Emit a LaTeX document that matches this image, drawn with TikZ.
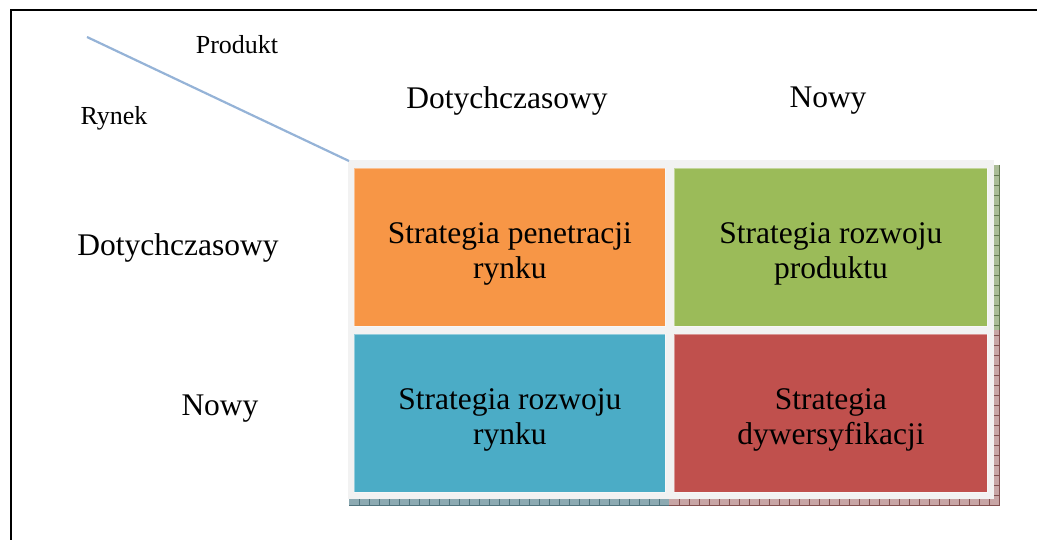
\documentclass[tikz,border=0pt]{standalone}
\usepackage{fontspec}
\setmainfont{Liberation Serif}
\definecolor{cOrange}{RGB}{247,150,70}
\definecolor{cGreen}{RGB}{155,187,89}
\definecolor{cBlue}{RGB}{75,172,198}
\definecolor{cRed}{RGB}{192,80,77}
\definecolor{cGray}{RGB}{242,242,242}
\definecolor{cLine}{RGB}{149,179,215}
\definecolor{shBlue}{RGB}{140,170,178}
\definecolor{shBlueD}{RGB}{80,115,125}
\definecolor{shRed}{RGB}{200,165,165}
\definecolor{shRedD}{RGB}{130,80,80}
\definecolor{shGreen}{RGB}{170,188,150}
\definecolor{shGreenD}{RGB}{100,120,80}
\tikzset{
  cell/.style={fill=#1, draw=white, draw opacity=0.4, line width=0.8pt, minimum width=311pt, minimum height=158pt, inner sep=0pt, anchor=north west},
  celltext/.style={align=center, font=\fontsize{31.5}{35}\selectfont, inner sep=0pt},
  biglbl/.style={font=\fontsize{31.5}{35}\selectfont, inner sep=0pt},
  smalllbl/.style={font=\fontsize{26}{30}\selectfont, inner sep=0pt},
}
\begin{document}
\begin{tikzpicture}[x=1pt,y=-1pt]
\useasboundingbox (0,0) rectangle (1037,540);
% frame
\draw[line width=2pt] (10.5,540) -- (10.5,10.5) -- (1037,10.5);
% shadow strips
\fill[shBlue] (349,499) rectangle (669,506);
\fill[shRed] (669,499) rectangle (1000,506);
\fill[shGreen] (994,165) rectangle (1000,330);
\fill[shRed] (994,330) rectangle (1000,506);
\foreach \x in {359,369,...,659} \draw[shBlueD, line width=0.6pt] (\x,499) -- (\x,506);
\foreach \x in {679,689,...,989} \draw[shRedD, line width=0.6pt] (\x,499) -- (\x,506);
\foreach \y in {175,185,...,325} \draw[shGreenD, line width=0.6pt] (994,\y) -- (1000,\y);
\foreach \y in {335,345,...,495} \draw[shRedD, line width=0.6pt] (994,\y) -- (1000,\y);
\draw[shBlueD, line width=0.8pt] (349,505.5) -- (669,505.5);
\draw[shRedD, line width=0.8pt] (669,505.5) -- (1000,505.5);
\draw[shRedD, line width=0.8pt] (999.5,330) -- (999.5,506);
\draw[shGreenD, line width=0.8pt] (999.5,165) -- (999.5,330);
% background
\node[fill=cGray, minimum width=646pt, minimum height=339pt, inner sep=0pt, anchor=north west] (bg) at (348,160) {};
% cells
\node[cell=cOrange] (c11) at (354,168) {};
\node[cell=cGreen, minimum width=313pt] (c12) at (674,168) {};
\node[cell=cBlue] (c21) at (354,334) {};
\node[cell=cRed, minimum width=313pt] (c22) at (674,334) {};
\node[celltext, yshift=-7pt] (t11) at (c11.center) {Strategia penetracji\\rynku};
\node[celltext, yshift=-7pt] (t12) at (c12.center) {Strategia rozwoju\\produktu};
\node[celltext, yshift=-7pt] (t21) at (c21.center) {Strategia rozwoju\\rynku};
\node[celltext, yshift=-7pt] (t22) at (c22.center) {Strategia\\dywersyfikacji};
% diagonal line
\coordinate (d1) at (87,37);
\coordinate (d2) at (349,161);
\draw[cLine, line width=2.2pt] (d1) -- (d2);
% labels
\node[smalllbl] (prod) at (237,45) {Produkt};
\node[smalllbl] (ryn) at (114,118) {Rynek};
\node[biglbl] (h1) at (507,101) {Dotychczasowy};
\node[biglbl] (h2) at (828,101) {Nowy};
\node[biglbl] (r1) at (178,248) {Dotychczasowy};
\node[biglbl] (r2) at (220,409) {Nowy};
\end{tikzpicture}
\end{document}
